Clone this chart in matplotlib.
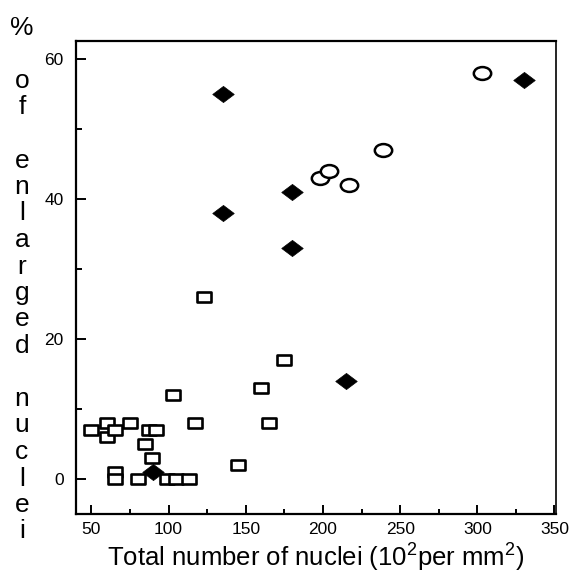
import numpy as np
import matplotlib
matplotlib.use("Agg")
import matplotlib.pyplot as plt
from matplotlib.path import Path
from matplotlib.transforms import Affine2D
from matplotlib.ticker import MultipleLocator

plt.rcParams['font.family'] = ['Liberation Sans', 'DejaVu Sans']
plt.rcParams['mathtext.default'] = 'regular'

# nuclei density (10^2 per mm^2) vs % of enlarged nuclei, three groups
squares_x = [50, 60, 60, 65, 75, 87, 92, 85, 89, 65, 65, 80, 99, 105, 113,
             117, 103, 123, 145, 160, 165, 175]
squares_y = [7, 8, 6, 7, 8, 7, 7, 5, 3, 1, 0, 0, 0, 0, 0,
             8, 12, 26, 2, 13, 8, 17]
circles_x = [198, 204, 217, 239, 303]
circles_y = [43, 44, 42, 47, 58]
diamonds_x = [90, 135, 135, 180, 180, 215, 330]
diamonds_y = [1, 55, 38, 41, 33, 14, 57]

x_ticks = [50, 100, 150, 200, 250, 300, 350]
y_ticks = [0, 20, 40, 60]
x_label = r"Total number of nuclei (10$^2$per mm$^2$)"
y_label = "% of enlarged nuclei"

# markers are a bit wider than tall
squash = Affine2D().scale(1.0, 0.75)
rect_marker = Path([(-1, -1), (1, -1), (1, 1), (-1, 1), (-1, -1)],
                   [Path.MOVETO, Path.LINETO, Path.LINETO, Path.LINETO, Path.CLOSEPOLY])
rect_marker = squash.transform_path(rect_marker)
ellipse_marker = Affine2D().scale(1.0, 0.74).transform_path(Path.unit_circle())
diamond_marker = Path([(0, -1), (1.33, 0), (0, 1), (-1.33, 0), (0, -1)],
                      [Path.MOVETO, Path.LINETO, Path.LINETO, Path.LINETO, Path.CLOSEPOLY])

fig = plt.figure(figsize=(5.69, 5.74), dpi=100)
ax = fig.add_axes([0.1336, 0.1045, 0.8436, 0.824])

ax.plot(squares_x, squares_y, linestyle='none', marker=rect_marker, markersize=10,
        markerfacecolor='white', markeredgecolor='black', markeredgewidth=1.9)
ax.plot(circles_x, circles_y, linestyle='none', marker=ellipse_marker, markersize=12.5,
        markerfacecolor='white', markeredgecolor='black', markeredgewidth=1.8)
ax.plot(diamonds_x, diamonds_y, linestyle='none', marker=diamond_marker, markersize=15.5,
        markerfacecolor='black', markeredgecolor='black', markeredgewidth=0.5)

ax.set_xlim(40, 351)
ax.set_ylim(-5, 62.5)
ax.set_xticks(x_ticks)
ax.set_yticks(y_ticks)
ax.xaxis.set_minor_locator(MultipleLocator(25))
ax.yaxis.set_minor_locator(MultipleLocator(10))
ax.tick_params(axis='both', which='both', direction='in', top=False, right=False,
               width=1.4, labelsize=12.5)
ax.tick_params(axis='x', which='major', length=6.5, pad=6)
ax.tick_params(axis='x', which='minor', length=3.5)
ax.tick_params(axis='y', which='major', length=7.5, pad=9)
ax.tick_params(axis='y', which='minor', length=4.5)

for side in ['left', 'bottom', 'top']:
    ax.spines[side].set_linewidth(1.6)
ax.spines['right'].set_linewidth(1.2)

fig.text(316 / 569, 1 - 558 / 574, x_label, ha='center', va='center', fontsize=18.5)

# y label written as a vertical stack of letters, one per line
line_px = 26.5
for i, ch in enumerate(y_label):
    if ch == ' ':
        continue
    y_px = 28 + i * line_px
    fig.text(22 / 569, 1 - y_px / 574, ch, ha='center', va='center', fontsize=19)

fig.savefig("out.png", dpi=100)
